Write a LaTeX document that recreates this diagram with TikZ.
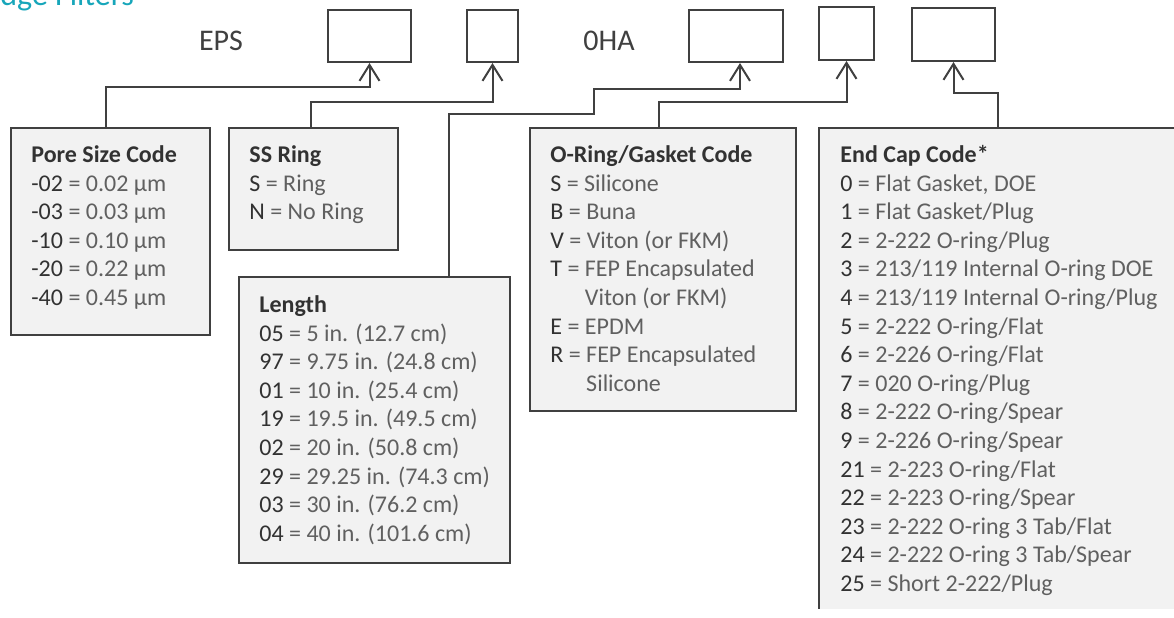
\documentclass[tikz,border=0pt]{standalone}
\usepackage{fontspec}
\setmainfont{Carlito}
\usepackage{tikz}
\usetikzlibrary{arrows.meta}
\definecolor{linegray}{RGB}{64,64,64}
\definecolor{darktext}{RGB}{50,50,50}
\definecolor{lighttext}{RGB}{96,96,96}
\definecolor{boxfill}{RGB}{242,242,242}
\definecolor{headteal}{RGB}{23,166,186}
\newcommand{\cd}[1]{{\color{darktext}#1}}
\newcommand{\hd}[1]{\strut{\color{darktext}\bfseries #1}}

\begin{document}
\begin{tikzpicture}[x=0.5pt,y=-0.5pt]
  \tikzstyle{slotbox}=[draw=linegray,line width=1pt,anchor=north west,inner sep=0pt]
  \tikzstyle{codebox}=[draw=linegray,line width=1pt,fill=boxfill,anchor=north west,inner sep=0pt]
  \tikzstyle{listtext}=[anchor=north west,inner sep=0pt,align=left,text=lighttext,
                        font=\fontsize{12}{14.3}\selectfont]
  \tikzstyle{pnpart}=[anchor=base,inner sep=0pt,text=linegray,font=\fontsize{15}{18}\selectfont]
  \tikzstyle{feed}=[draw=linegray,line width=1pt,-{Straight Barb[length=8pt,width=10pt]}]
  \useasboundingbox (0,0) rectangle (1174,617);
  \clip (0,0) rectangle (1174,608);

  \node[anchor=base west,inner sep=0pt,text=headteal,font=\fontsize{16}{19}\selectfont]
     (title) at (0,5) {dge Filters};

  % part number slots
  \node[pnpart] (eps) at (221,50) {EPS};
  \node[slotbox,minimum width=41.5pt,minimum height=26pt] (poreslot) at (327,9) {};
  \node[slotbox,minimum width=25.5pt,minimum height=26pt] (ringslot) at (466,9) {};
  \node[pnpart] (oha) at (609,50) {0HA};
  \node[slotbox,minimum width=47pt,minimum height=26pt] (lenslot) at (688,9) {};
  \node[slotbox,minimum width=27.5pt,minimum height=26.5pt] (oringslot) at (818,6) {};
  \node[slotbox,minimum width=41.5pt,minimum height=26.5pt] (capslot) at (911,7) {};

  % code tables
  \node[codebox,minimum width=99.5pt,minimum height=103.5pt] (pore) at (10,127) {};
  \node[listtext] (poretext) at ([shift={(21,15)}]pore.north west)
     {\hd{Pore Size Code}\\ \cd{-02} = 0.02 µm\\ \cd{-03} = 0.03 µm\\ \cd{-10} = 0.10 µm\\
      \cd{-20} = 0.22 µm\\ \cd{-40} = 0.45 µm};

  \node[codebox,minimum width=84.5pt,minimum height=61pt] (ring) at (228,127) {};
  \node[listtext] (ringtext) at ([shift={(21,15)}]ring.north west)
     {\hd{SS Ring}\\ \cd{S} = Ring\\ \cd{N} = No Ring};

  \node[codebox,minimum width=135.5pt,minimum height=143pt] (len) at (238,276) {};
  \node[listtext] (lentext) at ([shift={(21,16)}]len.north west)
     {\hd{Length}\\ \cd{05} = 5 in. (12.7 cm)\\ \cd{97} = 9.75 in. (24.8 cm)\\
      \cd{01} = 10 in. (25.4 cm)\\ \cd{19} = 19.5 in. (49.5 cm)\\ \cd{02} = 20 in. (50.8 cm)\\
      \cd{29} = 29.25 in. (74.3 cm)\\ \cd{03} = 30 in. (76.2 cm)\\ \cd{04} = 40 in. (101.6 cm)};

  \node[codebox,minimum width=133pt,minimum height=141.5pt] (oring) at (529,127) {};
  \node[listtext] (oringtext) at ([shift={(21,15)}]oring.north west)
     {\hd{O-Ring/Gasket Code}\\ \cd{S} = Silicone\\ \cd{B} = Buna\\ \cd{V} = Viton (or FKM)\\
      \cd{T} = FEP Encapsulated\\ \phantom{\cd{T} = }Viton (or FKM)\\ \cd{E} = EPDM\\
      \cd{R} = FEP Encapsulated\\ \phantom{\cd{R} = }Silicone};

  \node[codebox,minimum width=179pt,minimum height=260pt] (cap) at (818,127) {};
  \node[listtext] (captext) at ([shift={(22,15)}]cap.north west)
     {\hd{End Cap Code*}\\ \cd{0} = Flat Gasket, DOE\\ \cd{1} = Flat Gasket/Plug\\
      \cd{2} = 2-222 O-ring/Plug\\ \cd{3} = 213/119 Internal O-ring DOE\\
      \cd{4} = 213/119 Internal O-ring/Plug\\ \cd{5} = 2-222 O-ring/Flat\\
      \cd{6} = 2-226 O-ring/Flat\\ \cd{7} = 020 O-ring/Plug\\ \cd{8} = 2-222 O-ring/Spear\\
      \cd{9} = 2-226 O-ring/Spear\\ \cd{21} = 2-223 O-ring/Flat\\ \cd{22} = 2-223 O-ring/Spear\\
      \cd{23} = 2-222 O-ring 3 Tab/Flat\\ \cd{24} = 2-222 O-ring 3 Tab/Spear\\
      \cd{25} = Short 2-222/Plug};

  % leaders up to the slots
  \draw[feed] ([xshift=-2.25pt]pore.north) -- ++(0,-40) -| (poreslot.south);
  \draw[feed] ([xshift=-1.25pt]ring.north) -- ++(0,-25) -| (ringslot.south);
  \draw[feed] ([xshift=37.25pt]len.north) -- ++(0,-162) -- ++(145,0) -- ++(0,-25)
     -| ([xshift=2pt]lenslot.south);
  \draw[feed] ([xshift=-2pt]oring.north) -- ++(0,-25) -| (oringslot.south);
  \draw[feed] (cap.north) -- ++(0,-34) -| (capslot.south);
\end{tikzpicture}
\end{document}
